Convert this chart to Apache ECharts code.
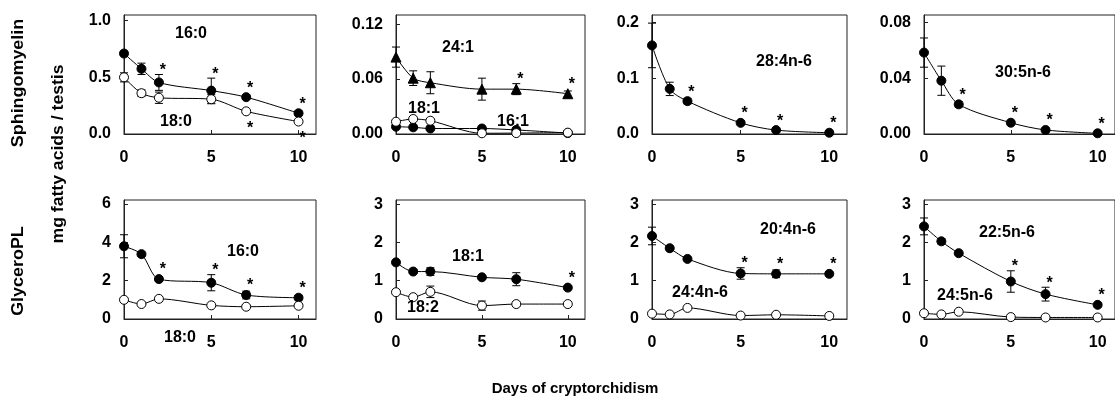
<!DOCTYPE html>
<html>
<head>
<meta charset="utf-8">
<script src="https://cdn.jsdelivr.net/npm/echarts@6/dist/echarts.min.js"></script>
<style>
html,body{margin:0;padding:0;background:#fff;}
#chart{width:1115px;height:398px;}
</style>
</head>
<body>
<div id="chart"></div>
<script>
// ---- data ----
const days = [0, 1, 2, 5, 7, 10];
const xTicks = [0, 5, 10];

// Sphingomyelin
const sm_16_0 = [0.71, 0.575, 0.455, 0.383, 0.325, 0.183];
const sm_16_0_err = [0.02, 0.05, 0.07, 0.11, 0.02, 0.02];
const sm_16_0_stars = [2, 5, 7, 10];
const sm_18_0 = [0.50, 0.36, 0.32, 0.307, 0.20, 0.11];
const sm_18_0_err = [0.04, 0.03, 0.05, 0.04, 0.01, 0.01];
const sm_18_0_starsBelow = [7, 10];

const sm_24_1 = [0.084, 0.061, 0.056, 0.049, 0.049, 0.044];
const sm_24_1_err = [0.011, 0.008, 0.012, 0.012, 0.006, 0.003];
const sm_24_1_stars = [7, 10];
const sm_18_1 = [0.0134, 0.0164, 0.0145, 0.0008, 0.001, 0.0015];
const sm_16_1 = [0.008, 0.0073, 0.006, 0.006, 0.0044, 0.001];

const sm_28_4 = [0.159, 0.081, 0.059, 0.020, 0.007, 0.0023];
const sm_28_4_err = [0.04, 0.012, 0.005, 0.003, 0.002, 0.001];
const sm_28_4_stars = [2, 5, 7, 10];

const sm_30_5 = [0.0585, 0.0383, 0.0213, 0.0081, 0.0029, 0.0005];
const sm_30_5_err = [0.0105, 0.0105, 0.002, 0.001, 0.001, 0];
const sm_30_5_stars = [2, 5, 7, 10];

// Glycerophospholipids
const gp_16_0 = [3.79, 3.38, 2.08, 1.89, 1.25, 1.11];
const gp_16_0_err = [0.6, 0.1, 0.1, 0.42, 0.2, 0.1];
const gp_16_0_stars = [2, 5, 7, 10];
const gp_18_0 = [1.0, 0.78, 1.05, 0.71, 0.64, 0.69];
const gp_18_0_err = [0.05, 0.05, 0.05, 0.05, 0.05, 0.05];

const gp_18_1 = [1.48, 1.24, 1.24, 1.09, 1.04, 0.82];
const gp_18_1_err = [0.05, 0.05, 0.1, 0.05, 0.17, 0.05];
const gp_18_1_stars = [10];
const gp_18_2 = [0.70, 0.57, 0.71, 0.35, 0.39, 0.39];
const gp_18_2_err = [0.02, 0.02, 0.15, 0.12, 0.05, 0.03];

const gp_20_4 = [2.17, 1.85, 1.57, 1.19, 1.18, 1.18];
const gp_20_4_err = [0.23, 0.03, 0.03, 0.15, 0.1, 0.05];
const gp_20_4_stars = [5, 7, 10];
const gp_24_4 = [0.14, 0.12, 0.29, 0.09, 0.11, 0.08];

const gp_22_5 = [2.42, 2.03, 1.72, 0.98, 0.65, 0.37];
const gp_22_5_err = [0.22, 0.07, 0.03, 0.28, 0.18, 0.03];
const gp_22_5_stars = [5, 7, 10];
const gp_24_5 = [0.15, 0.12, 0.19, 0.05, 0.04, 0.04];

// text
const rowTitles = ['Sphingomyelin', 'GlyceroPL'];
const yTitle = 'mg fatty acids / testis';
const xTitle = 'Days of cryptorchidism';

// ---- layout ----
const FONT = '"Liberation Sans", Arial, sans-serif';
const colLeft = [124, 396, 652, 924];
const colWidth = [192, 189, 195, 201];
const rowTop = [15, 200];
const plotH = 119;

const panels = [
  {r:0,c:0,max:1.05,interval:0.5,dec:1,
   series:[{v:sm_16_0,e:sm_16_0_err,sym:'circle',fill:true,stars:sm_16_0_stars},
           {v:sm_18_0,e:sm_18_0_err,sym:'circle',fill:false,starsBelow:sm_18_0_starsBelow}],
   labels:[['16:0',191,34],['18:0',176,122]]},
  {r:0,c:1,max:0.13,interval:0.06,dec:2,
   series:[{v:sm_24_1,e:sm_24_1_err,sym:'triangle',fill:true,stars:sm_24_1_stars},
           {v:sm_16_1,sym:'circle',fill:true},
           {v:sm_18_1,sym:'circle',fill:false}],
   labels:[['24:1',458,48],['18:1',424,109],['16:1',513,122]]},
  {r:0,c:2,max:0.2136,interval:0.1,dec:1,
   series:[{v:sm_28_4,e:sm_28_4_err,sym:'circle',fill:true,stars:sm_28_4_stars}],
   labels:[['28:4n-6',784,62]]},
  {r:0,c:3,max:0.0855,interval:0.04,dec:2,
   series:[{v:sm_30_5,e:sm_30_5_err,sym:'circle',fill:true,stars:sm_30_5_stars}],
   labels:[['30:5n-6',1023,73]]},
  {r:1,c:0,max:6.2,interval:2,dec:0,
   series:[{v:gp_16_0,e:gp_16_0_err,sym:'circle',fill:true,stars:gp_16_0_stars},
           {v:gp_18_0,e:gp_18_0_err,sym:'circle',fill:false}],
   labels:[['16:0',243,252],['18:0',180,338]]},
  {r:1,c:1,max:3.11,interval:1,dec:0,
   series:[{v:gp_18_1,e:gp_18_1_err,sym:'circle',fill:true,stars:gp_18_1_stars},
           {v:gp_18_2,e:gp_18_2_err,sym:'circle',fill:false}],
   labels:[['18:1',468,257],['18:2',423,308]]},
  {r:1,c:2,max:3.11,interval:1,dec:0,
   series:[{v:gp_20_4,e:gp_20_4_err,sym:'circle',fill:true,stars:gp_20_4_stars},
           {v:gp_24_4,sym:'circle',fill:false}],
   labels:[['20:4n-6',788,230],['24:4n-6',700,293]]},
  {r:1,c:3,max:3.11,interval:1,dec:0,
   series:[{v:gp_22_5,e:gp_22_5_err,sym:'circle',fill:true,stars:gp_22_5_stars},
           {v:gp_24_5,sym:'circle',fill:false}],
   labels:[['22:5n-6',1007,233],['24:5n-6',965,296]]}
];

const grids = [], xAxes = [], yAxes = [], series = [], graphics = [];

panels.forEach((p, i) => {
  grids.push({left: colLeft[p.c], top: rowTop[p.r], width: colWidth[p.c], height: plotH,
    show: true, borderColor: '#222', borderWidth: 1, backgroundColor: 'transparent'});
  xAxes.push({type: 'value', gridIndex: i, min: 0, max: 11, interval: 5,
    axisLine: {show: true, onZero: false, lineStyle: {color: '#222', width: 1}},
    axisTick: {show: true, inside: true, length: 4, lineStyle: {color: '#222'}},
    splitLine: {show: false},
    axisLabel: {showMaxLabel: false, margin: 16, color: '#000', fontFamily: FONT, fontWeight: 'bold', fontSize: 16,
      formatter: v => xTicks.indexOf(Math.round(v)) >= 0 && Math.abs(v - Math.round(v)) < 1e-6 ? String(Math.round(v)) : ''}});
  yAxes.push({type: 'value', gridIndex: i, min: 0, max: p.max, interval: p.interval,
    axisLine: {show: true, onZero: false, lineStyle: {color: '#222', width: 1}},
    axisTick: {show: true, inside: true, length: 4, lineStyle: {color: '#222'}},
    splitLine: {show: false},
    axisLabel: {showMaxLabel: false, margin: 13, color: '#000', fontFamily: FONT, fontWeight: 'bold', fontSize: 16,
      formatter: v => {
        const k = v / p.interval;
        return Math.abs(k - Math.round(k)) < 1e-6 ? v.toFixed(p.dec) : '';
      }}});

  p.series.forEach(s => {
    const err = s.e || days.map(() => 0);
    // error bars
    series.push({type: 'custom', xAxisIndex: i, yAxisIndex: i, z: 1, silent: true,
      data: days.map((d, k) => [d, s.v[k], err[k]]),
      renderItem: (params, api) => {
        const x = api.value(0), y = api.value(1), e = api.value(2);
        if (!e) return null;
        const t = api.coord([x, y + e]), b = api.coord([x, Math.max(y - e, 0)]);
        const st = {stroke: '#000', lineWidth: 1};
        const cw = 4;
        return {type: 'group', children: [
          {type: 'line', shape: {x1: t[0], y1: t[1], x2: b[0], y2: b[1]}, style: st},
          {type: 'line', shape: {x1: t[0] - cw, y1: t[1], x2: t[0] + cw, y2: t[1]}, style: st},
          {type: 'line', shape: {x1: b[0] - cw, y1: b[1], x2: b[0] + cw, y2: b[1]}, style: st}
        ]};
      }});
    // line + markers
    series.push({type: 'line', xAxisIndex: i, yAxisIndex: i, z: 3,
      data: days.map((d, k) => [d, s.v[k]]),
      smooth: 0.3, symbol: s.sym, symbolSize: s.sym === 'triangle' ? 10 : 9, showSymbol: true,
      lineStyle: {color: '#000', width: 1},
      itemStyle: {color: s.fill ? '#000' : '#fff', borderColor: '#000', borderWidth: 1, opacity: 1},
      emphasis: {disabled: true}, animation: false});
    // significance stars
    const starData = [];
    (s.stars || []).forEach(d => { const k = days.indexOf(d); starData.push([d, s.v[k], err[k], 1]); });
    (s.starsBelow || []).forEach(d => { const k = days.indexOf(d); starData.push([d, s.v[k], err[k], -1]); });
    if (starData.length) {
      series.push({type: 'custom', xAxisIndex: i, yAxisIndex: i, z: 4, silent: true,
        data: starData,
        renderItem: (params, api) => {
          const x = api.value(0), y = api.value(1), e = api.value(2), dir = api.value(3);
          const pt = api.coord([x, y]);
          let cy;
          if (dir > 0) {
            const top = api.coord([x, y + e])[1];
            cy = Math.min(pt[1] - 13, top - 8);
          } else {
            cy = pt[1] + 13;
          }
          return {type: 'text', style: {text: '*', x: pt[0] + 4, y: cy + 4, textAlign: 'center',
            textVerticalAlign: 'middle', fill: '#000', font: 'bold 16px ' + FONT}};
        }});
    }
  });

  p.labels.forEach(l => {
    graphics.push({type: 'text', x: l[1], y: l[2], z: 10,
      style: {text: l[0], x: 0, y: 0, textAlign: 'center', textVerticalAlign: 'middle',
        fill: '#000', font: 'bold 16px ' + FONT}});
  });
});

graphics.push({type: 'text', x: 19, y: 83, rotation: Math.PI / 2, scaleX: 1.12,
  style: {text: rowTitles[0], textAlign: 'center', textVerticalAlign: 'middle', fill: '#000', font: 'bold 16px ' + FONT}});
graphics.push({type: 'text', x: 19, y: 271, rotation: Math.PI / 2, scaleX: 1.12,
  style: {text: rowTitles[1], textAlign: 'center', textVerticalAlign: 'middle', fill: '#000', font: 'bold 16px ' + FONT}});
graphics.push({type: 'text', x: 59, y: 154, rotation: Math.PI / 2, scaleX: 1.1,
  style: {text: yTitle, textAlign: 'center', textVerticalAlign: 'middle', fill: '#000', font: 'bold 16px ' + FONT}});
graphics.push({type: 'text', x: 575, y: 389,
  style: {text: xTitle, textAlign: 'center', textVerticalAlign: 'middle', fill: '#000', font: 'bold 15px ' + FONT}});

const chart = echarts.init(document.getElementById('chart'), null, {renderer: 'canvas'});
chart.setOption({
  animation: false,
  backgroundColor: '#fff',
  grid: grids, xAxis: xAxes, yAxis: yAxes, series: series, graphic: graphics
});
</script>
</body>
</html>
